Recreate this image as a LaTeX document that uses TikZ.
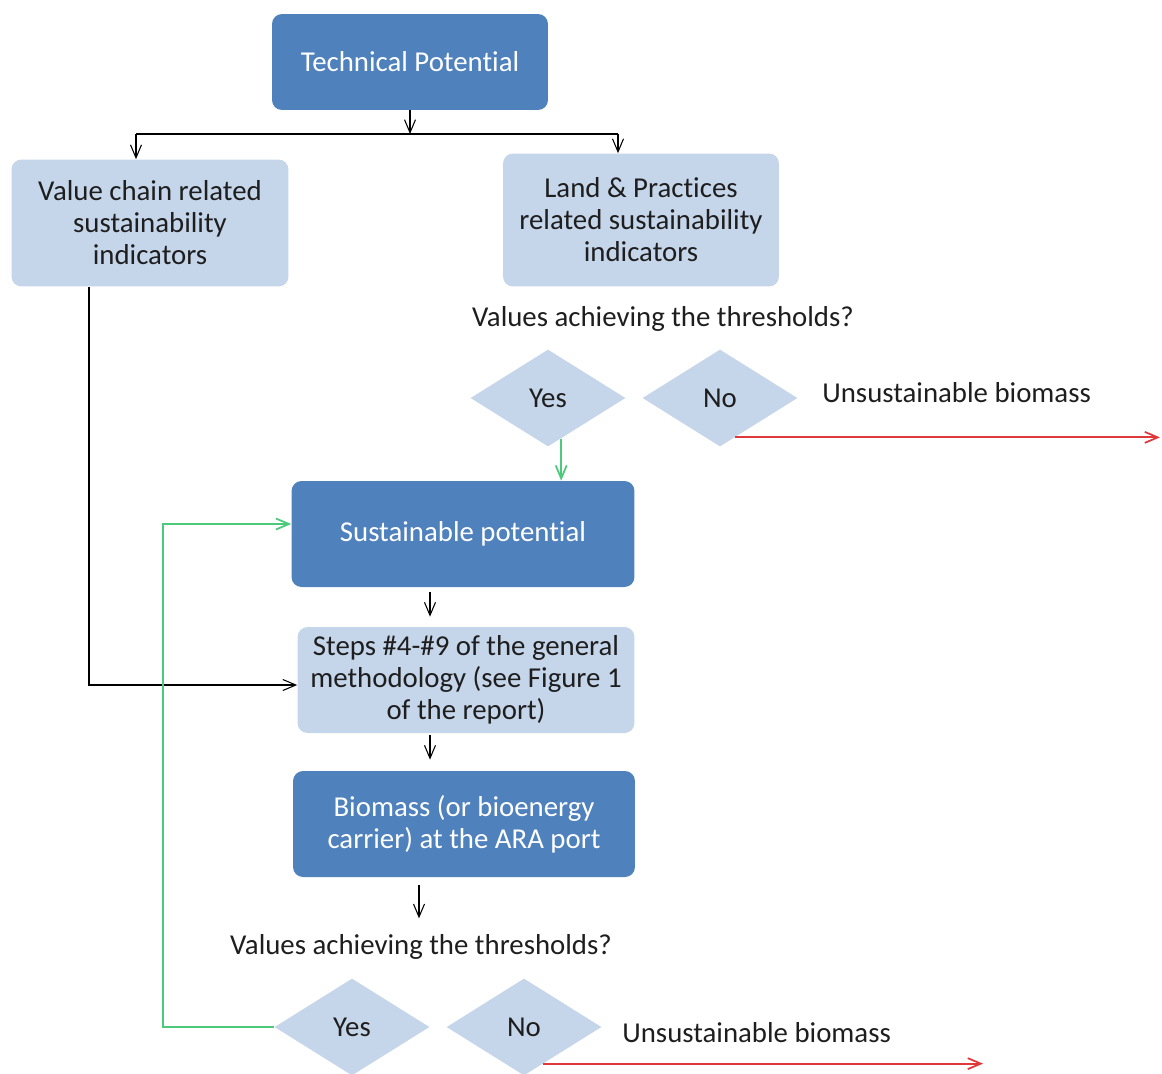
\documentclass[tikz,border=0pt]{standalone}
\usepackage{fontspec}
\setmainfont{Carlito}[Ligatures=NoCommon]
\usepackage{tikz}
\usetikzlibrary{shapes.geometric}
\usetikzlibrary{arrows.meta}

\definecolor{darkblue}{HTML}{4F81BD}
\definecolor{paleblue}{HTML}{C5D5EA}
\definecolor{yesgreen}{HTML}{4CC97A}
\definecolor{nored}{HTML}{E0393C}
\definecolor{inktext}{HTML}{1E1E1E}

\tikzset{
  darkbox/.style={fill=darkblue, rounded corners=0.2cm, text=white, align=center, inner sep=0pt},
  palebox/.style={fill=paleblue, rounded corners=0.2cm, text=inktext, align=center, inner sep=0pt},
  choice/.style={diamond, fill=paleblue, aspect=1.6, inner sep=0pt, text=inktext,
    minimum width=3.1cm, minimum height=1.94cm},
  flow/.style={line width=0.6pt, -{Straight Barb[length=2.6mm,width=2.2mm]}},
  signal/.style={flow, line width=1pt},
}

\begin{document}
\begin{tikzpicture}[x=0.02cm, y=-0.02cm, font=\fontsize{16.4}{18.2}\selectfont]
  \useasboundingbox (0,0) rectangle (1162,1073);

  % upper part
  \node[darkbox, minimum width=5.52cm, minimum height=1.92cm] (tech) at (410,62) {Technical Potential};
  \node[palebox, minimum width=5.54cm, minimum height=2.54cm] (chain) at (150,223)
    {Value chain related\\sustainability\\indicators};
  \node[palebox, minimum width=5.52cm, minimum height=2.66cm] (land) at (641,220)
    {Land \& Practices\\related sustainability\\indicators};
  \node[text=inktext] (q1) at (663,319) {Values achieving the thresholds?};
  \node[choice] (yes1) at (548,398) {Yes};
  \node[choice] (no1) at (720,398) {No};
  \node[anchor=west, inner sep=0pt, text=inktext] (un1) at (822,393) {Unsustainable biomass};

  % middle part
  \node[darkbox, minimum width=6.86cm, minimum height=2.12cm] (sust) at (463,534) {Sustainable potential};
  \node[palebox, minimum width=6.74cm, minimum height=2.12cm] (steps) at (466,680)
    {Steps \#4-\#9 of the general\\methodology (see Figure 1\\of the report)};
  \node[darkbox, minimum width=6.84cm, minimum height=2.12cm] (bio) at (464,824)
    {Biomass (or bioenergy\\carrier) at the ARA port};

  % lower part
  \node[text=inktext] (q2) at (421,947) {Values achieving the thresholds?};
  \node[choice] (yes2) at (352,1027) {Yes};
  \node[choice] (no2) at (524,1027) {No};
  \node[anchor=west, inner sep=0pt, text=inktext] (un2) at (622,1033) {Unsustainable biomass};

  % helper points
  \coordinate (bus) at (410,134);
  \coordinate (busL) at (136,134);
  \coordinate (busR) at (618,134);
  \coordinate (side) at (89,685);
  \coordinate (spine) at (430,600);
  \coordinate (spine2) at (419,900);
  \coordinate (out1) at (1160,437);
  \coordinate (out2) at (983,1064);
  \coordinate (loop) at (163,1027);
  \coordinate (loopTop) at (163,524);

  % black connectors
  \draw[flow] (tech.south) -- (bus);
  \draw[line width=0.6pt] (busL) -- (busR);
  \draw[flow] (busL) -- (busL |- chain.north);
  \draw[flow] (busR) -- (busR |- land.north);
  \draw[flow] (side |- chain.south) -- (side) -- (steps.west |- side);
  \draw[flow, shorten <=0.1cm, shorten >=0.2cm] (spine |- sust.south) -- (spine |- steps.north);
  \draw[flow, shorten <=0.04cm, shorten >=0.22cm] (spine |- steps.south) -- (spine |- bio.north);
  \draw[flow, shorten <=0.16cm, shorten >=0.2cm] (spine2 |- bio.south) -- (spine2 |- q2.north);

  % yes / no connectors
  \draw[signal, yesgreen] (yes1.-72) -- (yes1.-72 |- sust.north);
  \draw[signal, nored] (no1.-69) -- (no1.-69 -| out1);
  \draw[signal, yesgreen] (yes2.west) -- (loop) -- (loopTop) -- (loopTop -| sust.west);
  \draw[signal, nored] (no2.-62) -- (no2.-62 -| out2);
\end{tikzpicture}
\end{document}
